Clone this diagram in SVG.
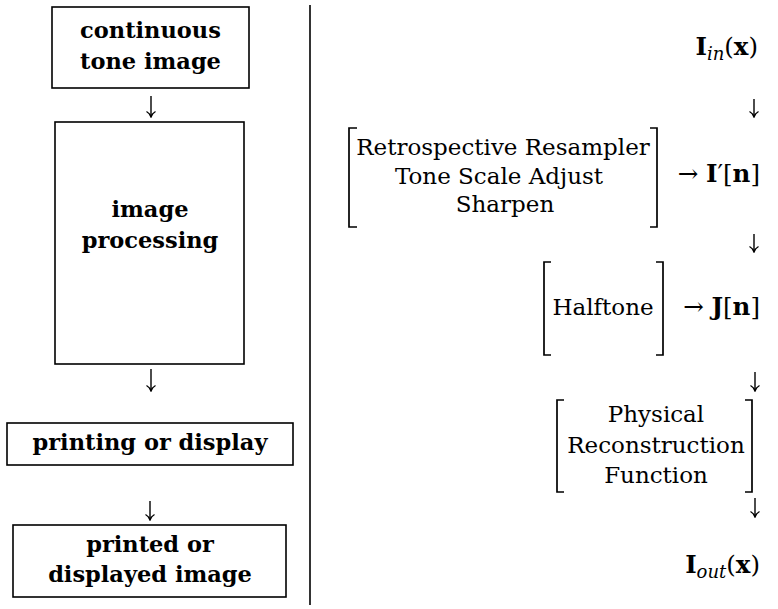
<svg xmlns="http://www.w3.org/2000/svg" width="778" height="609" viewBox="0 0 778 609">
<style>
.box{fill:none;stroke:#000;stroke-width:1.6}
.b{font-family:"DejaVu Serif","Liberation Serif",serif;font-weight:bold;font-size:22.5px;fill:#000;text-anchor:middle}
.r{font-family:"DejaVu Serif","Liberation Serif",serif;font-weight:normal;font-size:23px;fill:#000;text-anchor:middle}
.m{font-family:"DejaVu Serif","Liberation Serif",serif;font-weight:normal;font-size:24.5px;fill:#000;text-anchor:end}
.bk{fill:none;stroke:#000;stroke-width:1.7}
.arr{fill:none;stroke:#000;stroke-width:1.4}
</style>
<defs>
<marker id="ah" viewBox="0 0 10 10" refX="9.5" refY="5" markerWidth="10" markerHeight="10" markerUnits="userSpaceOnUse" orient="auto">
<path d="M4,0.5 Q6,4 9.5,5 Q6,6 4,9.5" fill="none" stroke="#000" stroke-width="1.3"/>
</marker>
</defs>
<line x1="310" y1="5" x2="310" y2="605" stroke="#000" stroke-width="1.6"/>
<g id="n-continuous"><rect class="box" x="52" y="7" width="197" height="81"/><text class="b" x="150.5" y="38">continuous</text><text class="b" x="150.5" y="69">tone image</text></g>
<g id="n-processing"><rect class="box" x="55" y="122" width="189" height="242"/><text class="b" x="150" y="217">image</text><text class="b" x="150" y="248">processing</text></g>
<g id="n-printing"><rect class="box" x="7" y="423" width="286" height="42"/><text class="b" x="150" y="450">printing or display</text></g>
<g id="n-printed"><rect class="box" x="13" y="525" width="273" height="72"/><text class="b" x="150" y="552">printed or</text><text class="b" x="150" y="582">displayed image</text></g>
<g id="n-iin"><text class="m" x="758" y="55"><tspan font-weight="bold">I</tspan><tspan font-style="italic" font-size="18" dy="5">in</tspan><tspan dy="-5">(</tspan><tspan font-weight="bold">x</tspan>)</text></g>
<g id="n-resampler"><path class="bk" d="M357,128 H349 V227 H357 M650,128 H657 V227 H650"/><text class="r" x="503" y="155">Retrospective Resampler</text><text class="r" x="499" y="184">Tone Scale Adjust</text><text class="r" x="505" y="212">Sharpen</text><text class="m" x="760" y="182">→ <tspan font-weight="bold">I</tspan>′[<tspan font-weight="bold">n</tspan>]</text></g>
<g id="n-halftone"><path class="bk" d="M551,262 H544 V355 H551 M656,262 H663 V355 H656"/><text class="r" x="603" y="315">Halftone</text><text class="m" x="760" y="315">→ <tspan font-weight="bold">J</tspan>[<tspan font-weight="bold">n</tspan>]</text></g>
<g id="n-physical"><path class="bk" d="M564,400 H557 V492 H564 M745,400 H752 V492 H745"/><text class="r" x="656" y="422">Physical</text><text class="r" x="656" y="453">Reconstruction</text><text class="r" x="656" y="483">Function</text></g>
<g id="n-iout"><text class="m" x="760" y="573"><tspan font-weight="bold">I</tspan><tspan font-style="italic" font-size="18" dy="5">out</tspan><tspan dy="-5">(</tspan><tspan font-weight="bold">x</tspan>)</text></g>
<g id="connectors">
<line class="arr" x1="151" y1="96" x2="151" y2="117" marker-end="url(#ah)"/>
<line class="arr" x1="151" y1="369" x2="151" y2="391" marker-end="url(#ah)"/>
<line class="arr" x1="150" y1="501" x2="150" y2="520" marker-end="url(#ah)"/>
<line class="arr" x1="754" y1="99" x2="754" y2="117" marker-end="url(#ah)"/>
<line class="arr" x1="754" y1="234" x2="754" y2="252" marker-end="url(#ah)"/>
<line class="arr" x1="755" y1="372" x2="755" y2="391" marker-end="url(#ah)"/>
<line class="arr" x1="755" y1="498" x2="755" y2="517" marker-end="url(#ah)"/>
</g>
</svg>
